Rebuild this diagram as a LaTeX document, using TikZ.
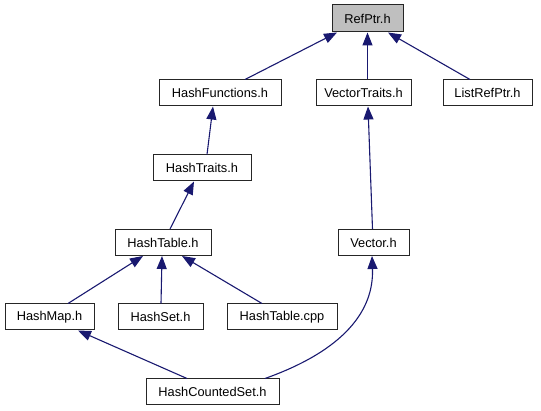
\documentclass[tikz,border=0pt]{standalone}
\usepackage{fontspec}
\setmainfont{Liberation Sans}
\usetikzlibrary{arrows.meta}
\definecolor{edgeblue}{HTML}{191970}
\definecolor{rootgray}{HTML}{BFBFBF}
\tikzset{
  box/.style={draw=black!85, line width=1pt, fill=white, minimum height=26pt, inner sep=0pt,
    font=\fontsize{12.8}{14}\selectfont, text=black},
  rootbox/.style={box, fill=rootgray},
  edge/.style={draw=edgeblue, line width=1.1pt, -{Triangle[length=13pt,width=10pt]}}
}
\begin{document}
\begin{tikzpicture}[x=1pt,y=-1pt]
\useasboundingbox (0,0) rectangle (541,411);
\node[rootbox, minimum width=71pt, minimum height=27pt] (ref) at (367.5,18.5) {RefPtr.h};
\node[box, minimum width=122pt] (hf) at (220,93) {HashFunctions.h};
\node[box, minimum width=95pt] (vt) at (363.5,93) {VectorTraits.h};
\node[box, minimum width=89pt] (lr) at (487.5,93) {ListRefPtr.h};
\node[box, minimum width=98pt] (ht) at (202,168) {HashTraits.h};
\node[box, minimum width=96pt] (htab) at (163,242.5) {HashTable.h};
\node[box, minimum width=71pt] (vec) at (373.5,242.5) {Vector.h};
\node[box, minimum width=89pt] (hm) at (49.5,317) {HashMap.h};
\node[box, minimum width=85pt] (hs) at (160.5,317) {HashSet.h};
\node[box, minimum width=110pt] (hc) at (282,317) {HashTable.cpp};
\node[box, minimum width=133pt] (hcs) at (212.5,392) {HashCountedSet.h};

\draw[edge] ([xshift=25pt]hf.north) -- ([xshift=-30.5pt]ref.south);
\draw[edge] ([xshift=4pt]vt.north) -- ([xshift=0pt]ref.south);
\draw[edge] ([xshift=-17.5pt]lr.north) -- ([xshift=20.5pt]ref.south);
\draw[edge] ([xshift=5pt]ht.north) -- ([xshift=-7pt]hf.south);
\draw[edge] ([xshift=7pt]htab.north) -- ([xshift=-8pt]ht.south);
\draw[edge] ([xshift=-1pt]vec.north) -- ([xshift=4.5pt]vt.south);
\draw[edge] ([xshift=18.5pt]hm.north) -- ([xshift=-20pt]htab.south);
\draw[edge] ([xshift=0.5pt]hs.north) -- ([xshift=-1pt]htab.south);
\draw[edge] ([xshift=-20pt]hc.north) -- ([xshift=19pt]htab.south);
\draw[edge] ([xshift=-25.5pt]hcs.north) -- ([xshift=28.5pt]hm.south);
\draw[edge] ([xshift=52.5pt]hcs.north) .. controls (345,350) and (374,310) .. ([xshift=-1.5pt]vec.south);
\end{tikzpicture}
\end{document}
